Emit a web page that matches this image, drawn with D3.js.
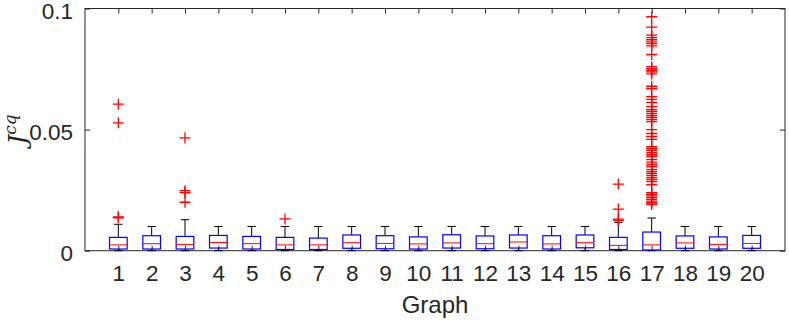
<!DOCTYPE html>
<html>
<head>
<meta charset="utf-8">
<script src="https://cdn.jsdelivr.net/npm/d3@7"></script>
<style>
  body { margin: 0; background: #fff; }
  svg { display: block; }
  .axis text { font-family: "Liberation Sans", Arial, sans-serif; font-size: 22.5px; fill: #262626; }
  .axis path, .axis line { stroke: #262626; }
</style>
</head>
<body>
<svg id="chart" width="789" height="323"></svg>
<script>
// categories
const graphs = ['1','2','3','4','5','6','7','8','9','10','11','12','13','14','15','16','17','18','19','20'];

// box statistics
const q1 =      [0.0007,0.0007,0.0007,0.0011,0.0007,0.0005,0.0005,0.0010,0.0008,0.0007,0.0011,0.0008,0.0011,0.0007,0.0012,0.0005,0.0003,0.0010,0.0007,0.0010];
const medians = [0.0024,0.0029,0.0026,0.0034,0.0029,0.0024,0.0024,0.0033,0.0030,0.0028,0.0032,0.0029,0.0036,0.0028,0.0033,0.0022,0.0024,0.0032,0.0026,0.0030];
const q3 =      [0.0055,0.0062,0.0059,0.0063,0.0059,0.0055,0.0052,0.0065,0.0062,0.0057,0.0066,0.0061,0.0065,0.0062,0.0065,0.0055,0.0077,0.0061,0.0057,0.0063];
const whiskLo = [0,0,0,0,0,0,0,0,0,0,0,0,0,0,0,0,0,0,0,0];
const whiskHi = [0.0109,0.0100,0.0128,0.0100,0.0100,0.0100,0.0100,0.0100,0.0100,0.0100,0.0100,0.0100,0.0100,0.0100,0.0100,0.0117,0.0135,0.0100,0.0100,0.0100];

// outliers per graph
const outliers = [
  [0.0605, 0.0528, 0.0140, 0.0136],
  [],
  [0.0466, 0.0248, 0.0240, 0.0200],
  [], [],
  [0.0131],
  [], [], [], [], [], [], [], [], [],
  [0.0275, 0.0172, 0.0130, 0.0125],
  [0.0966, 0.0923, 0.0890, 0.0880, 0.0871, 0.0862, 0.0855, 0.0846, 0.0810,
   0.0760, 0.0752, 0.0745, 0.0738, 0.0730, 0.0679, 0.0669, 0.0636, 0.0625,
   0.0612, 0.0595, 0.0582, 0.0574, 0.0566, 0.0558, 0.0550, 0.0541, 0.0533,
   0.0500, 0.0484, 0.0472, 0.0460, 0.0430, 0.0422, 0.0414, 0.0405, 0.0397,
   0.0389, 0.0376, 0.0366, 0.0356, 0.0347, 0.0335, 0.0326, 0.0318, 0.0310,
   0.0302, 0.0294, 0.0285, 0.0273, 0.0240, 0.0233, 0.0226, 0.0219, 0.0212,
   0.0205, 0.0198, 0.0191],
  [], [], []
];

const yTicks = [0, 0.05, 0.1];
const yTickLabels = ['0', '0.05', '0.1'];

// size
const mLeft = 85, mRight = 785, mTop = 8.5, mBottom = 250.7;

const svg = d3.select('#chart');

const x = d3.scaleLinear().domain([0, 21]).range([mLeft, mRight]);
const y = d3.scaleLinear().domain([0, 0.1]).range([mBottom, mTop]);

const unit = x(1) - x(0);
const boxW = unit * 0.53;
const capW = unit * 0.25;

// frame
svg.append('rect')
  .attr('x', mLeft).attr('y', mTop)
  .attr('width', mRight - mLeft).attr('height', mBottom - mTop)
  .attr('fill', 'none').attr('stroke', '#262626').attr('stroke-width', 1);

// axes (ticks inside, like matlab)
const xAxis = d3.axisBottom(x)
  .tickValues(d3.range(1, 21))
  .tickFormat((d, i) => graphs[i])
  .tickSizeInner(-5).tickSizeOuter(0).tickPadding(14);
svg.append('g').attr('class', 'axis')
  .attr('transform', `translate(0,${mBottom})`)
  .call(xAxis)
  .call(g => g.select('.domain').remove());

const xTop = d3.axisTop(x)
  .tickValues(d3.range(1, 21))
  .tickFormat('')
  .tickSizeInner(-5).tickSizeOuter(0);
svg.append('g').attr('class', 'axis')
  .attr('transform', `translate(0,${mTop})`)
  .call(xTop)
  .call(g => g.select('.domain').remove());

const yAxis = d3.axisLeft(y)
  .tickValues(yTicks)
  .tickFormat((d, i) => yTickLabels[i])
  .tickSizeInner(-5).tickSizeOuter(0).tickPadding(12);
svg.append('g').attr('class', 'axis')
  .attr('transform', `translate(${mLeft},0)`)
  .call(yAxis)
  .call(g => g.select('.domain').remove())
  .call(g => g.selectAll('text').attr('dy', '0.43em'));

const yRight = d3.axisRight(y)
  .tickValues(yTicks)
  .tickFormat('')
  .tickSizeInner(-5).tickSizeOuter(0);
svg.append('g').attr('class', 'axis')
  .attr('transform', `translate(${mRight},0)`)
  .call(yRight)
  .call(g => g.select('.domain').remove());

// boxes
const boxes = svg.selectAll('.box')
  .data(graphs)
  .enter()
  .append('g')
  .attr('class', 'box')
  .attr('transform', (d, i) => `translate(${x(i + 1)},0)`);

// whiskers
boxes.append('line')
  .attr('x1', 0).attr('x2', 0)
  .attr('y1', (d, i) => y(q3[i])).attr('y2', (d, i) => y(whiskHi[i]))
  .attr('stroke', '#000').attr('stroke-width', 1);
boxes.append('line')
  .attr('x1', 0).attr('x2', 0)
  .attr('y1', (d, i) => y(q1[i])).attr('y2', (d, i) => y(whiskLo[i]))
  .attr('stroke', '#000').attr('stroke-width', 1);
boxes.append('line')
  .attr('x1', -capW / 2).attr('x2', capW / 2)
  .attr('y1', (d, i) => y(whiskHi[i])).attr('y2', (d, i) => y(whiskHi[i]))
  .attr('stroke', '#000').attr('stroke-width', 1);
boxes.append('line')
  .attr('x1', -capW / 2).attr('x2', capW / 2)
  .attr('y1', (d, i) => y(whiskLo[i])).attr('y2', (d, i) => y(whiskLo[i]))
  .attr('stroke', '#000').attr('stroke-width', 1);

boxes.append('rect')
  .attr('x', -boxW / 2)
  .attr('y', (d, i) => y(q3[i]))
  .attr('width', boxW)
  .attr('height', (d, i) => y(q1[i]) - y(q3[i]))
  .attr('fill', 'none')
  .attr('stroke', '#0000ff').attr('stroke-width', 1.2);

boxes.append('line')
  .attr('x1', -boxW / 2).attr('x2', boxW / 2)
  .attr('y1', (d, i) => y(medians[i])).attr('y2', (d, i) => y(medians[i]))
  .attr('stroke', '#ff0000').attr('stroke-width', 1);

// outliers
boxes.selectAll('.out')
  .data((d, i) => outliers[i])
  .enter()
  .append('path')
  .attr('class', 'out')
  .attr('transform', v => `translate(0,${y(v)})`)
  .attr('d', 'M-5.5,0H5.5M0,-5.5V5.5')
  .attr('stroke', '#ff0000').attr('stroke-width', 1.3)
  .attr('fill', 'none');

// x label
svg.append('text')
  .attr('x', (mLeft + mRight) / 2)
  .attr('y', 313)
  .attr('text-anchor', 'middle')
  .attr('font-family', '"Liberation Sans", Arial, sans-serif')
  .attr('font-size', 24)
  .attr('fill', '#262626')
  .text('Graph');

// y label
const yl = svg.append('text')
  .attr('transform', `translate(26,${(mTop + mBottom) / 2}) rotate(-90)`)
  .attr('text-anchor', 'middle')
  .attr('font-family', '"DejaVu Serif", "Liberation Serif", serif')
  .attr('font-style', 'italic')
  .attr('fill', '#262626');
yl.append('tspan').attr('font-size', 25).text('J');
yl.append('tspan').attr('font-size', 17).attr('dy', -10).text('cq');
</script>
</body>
</html>
